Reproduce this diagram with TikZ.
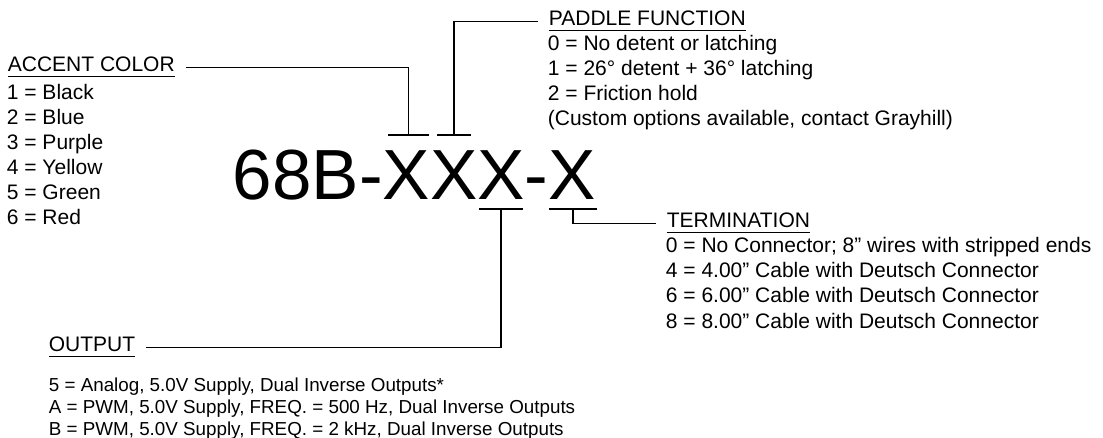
\documentclass[tikz,border=0pt]{standalone}
\usepackage{fontspec}
\setmainfont{Liberation Sans}
\newcommand\headtext[1]{\setbox0\hbox{#1}\rlap{\rule[-5.5pt]{\wd0}{1.5pt}}\box0}
\begin{document}
\begin{tikzpicture}[x=1pt,y=-1pt,line width=1.8pt,
  every node/.style={inner sep=0pt,anchor=base west},
  item/.style={font=\fontsize{21}{25}\selectfont},
  small/.style={font=\fontsize{18.8}{22}\selectfont},
  lead/.style={shorten <=10pt}]
\useasboundingbox (0,0) rectangle (1103,438);
\node[font=\fontsize{71}{80}\selectfont] (part) at (232,200) {68B-XXX-X};
% bars over and under the X digits
\draw (388,135) -- coordinate[midway] (accbar) (429,135);
\draw (437,135) -- coordinate[midway] (padbar) (471,135);
\draw (479,209) -- coordinate[midway] (outbar) (523,209);
\draw (549,209) -- coordinate[midway] (termbar) (597,209);
% accent colour
\node[item] (acc) at (7,72) {\headtext{ACCENT COLOR}};
\foreach \t [count=\i] in {1 = Black,2 = Blue,3 = Purple,4 = Yellow,5 = Green,6 = Red}
  \node[item] (acc-\i) at (6,75+25*\i) {\t};
\draw[lead] (acc.east) -| (accbar);
% paddle function
\node[item] (pad) at (548,26) {\headtext{PADDLE FUNCTION}};
\foreach \t [count=\i] in {0 = No detent or latching,1 = 26° detent + 36° latching,
  2 = Friction hold,(Custom options available{,} contact Grayhill)}
  \node[item] (pad-\i) at (547,26+25*\i) {\t};
\draw[lead] (pad.west) -| (padbar);
% termination
\node[item] (term) at (666,228) {\headtext{TERMINATION}};
\foreach \t [count=\i] in {0 = No Connector; 8” wires with stripped ends,
  4 = 4.00” Cable with Deutsch Connector,6 = 6.00” Cable with Deutsch Connector,
  8 = 8.00” Cable with Deutsch Connector}
  \node[item] (term-\i) at (665,228+25*\i) {\t};
\draw[lead] (term.west) -| (termbar);
% output
\node[item] (out) at (48,352) {\headtext{OUTPUT}};
\foreach \t [count=\i] in {{5 = Analog, 5.0V Supply, Dual Inverse Outputs*},
  {A = PWM, 5.0V Supply, FREQ. = 500 Hz, Dual Inverse Outputs},
  {B = PWM, 5.0V Supply, FREQ. = 2 kHz, Dual Inverse Outputs}}
  \node[small] (out-\i) at (48,369+22*\i) {\t};
\draw[lead] (out.east) -| (outbar);
\end{tikzpicture}
\end{document}
